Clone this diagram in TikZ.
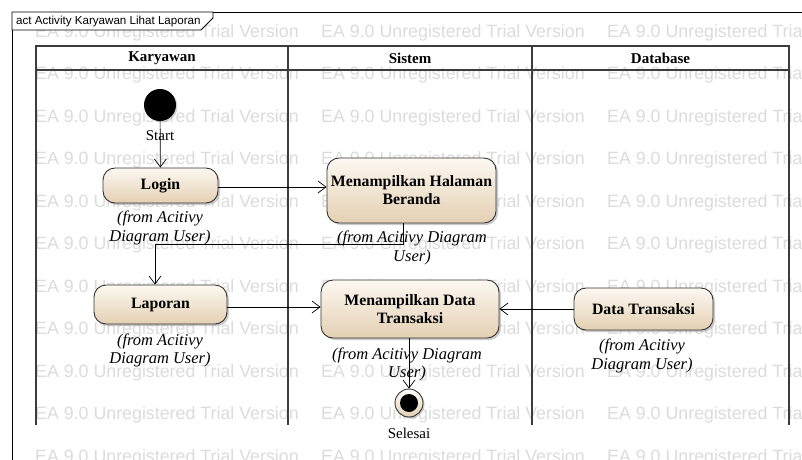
\documentclass[tikz,border=0pt]{standalone}
\usepackage{fontspec}
\setmainfont{Liberation Serif}
\setsansfont{Liberation Sans}
\usetikzlibrary{arrows.meta,shadows}
\definecolor{wmark}{HTML}{DCDCDC}
\definecolor{actTop}{HTML}{FCF8F1}
\definecolor{actBottom}{HTML}{E4D0B3}
\definecolor{laneLine}{HTML}{3C3C3C}
\begin{document}
\begin{tikzpicture}[x=1pt,y=-1pt,
  action/.style={draw=black!80, line width=0.9pt, rounded corners=12pt,
    top color=actTop, bottom color=actBottom,
    drop shadow={shadow xshift=2pt,shadow yshift=-2pt,fill=black!40,opacity=0.5},
    font=\fontsize{15.8}{18}\selectfont\bfseries, align=center, inner sep=0pt},
  origin/.style={font=\fontsize{16.5}{18.5}\selectfont\itshape, align=center, inner sep=0pt},
  flow/.style={draw=black, line width=0.7pt, -{Straight Barb[length=8pt,width=12pt]}},
  lanehead/.style={font=\fontsize{15}{17}\selectfont\bfseries, inner sep=0pt},
  caption/.style={font=\fontsize{15}{17}\selectfont, inner sep=0pt},
  wm/.style={font=\sffamily\fontsize{17.8}{20}\selectfont, text=wmark, inner sep=0pt, anchor=west},
  lane/.style={draw=laneLine, line width=1.3pt}
]
\useasboundingbox (0,0) rectangle (802,459);
\clip (0,0) rectangle (802,459);
\fill[white] (0,0) rectangle (802,459);

% tool watermark rows
\foreach \r in {0,...,10}
  \foreach \c in {35,321,607}
    \node[wm] (wm-\r-\c) at (\c, 32.5+42.5*\r) {EA 9.0 Unregistered Trial Version};

% diagram frame and its name tab
\draw[black, line width=0.8pt] (12,470) -- (12,12) -- (810,12);
\filldraw[fill=white, draw=black, line width=0.8pt]
  (12,12) -- (12,30) -- (201,30) -- (213,18) -- (213,12) -- cycle;
\node[font=\sffamily\fontsize{11.6}{13}\selectfont, anchor=west, inner sep=0pt] (frametitle)
  at (16,21.5) {act Activity Karyawan Lihat Laporan};

% swimlanes
\draw[lane] (36,425) -- (36,46) -- (789,46) -- (789,425);
\draw[lane] (36,70) -- (789,70);
\draw[lane] (288,46) -- (288,425);
\draw[lane] (532,46) -- (532,425);
\node[lanehead] (h1) at (162,58) {Karyawan};
\node[lanehead] (h2) at (410,58) {Sistem};
\node[lanehead] (h3) at (660.5,58) {Database};

% start and end
\node[circle, fill=black, minimum size=32pt, inner sep=0pt,
  drop shadow={shadow xshift=1.5pt,shadow yshift=-1.5pt,fill=black!40,opacity=0.4}] (start) at (160,105) {};
\node[caption] (startlbl) at (160,136) {Start};
\node[circle, draw=black!80, line width=0.9pt, minimum size=28pt, inner sep=0pt,
  top color=white, bottom color=actBottom,
  drop shadow={shadow xshift=1.5pt,shadow yshift=-1.5pt,fill=black!40,opacity=0.5}] (finish) at (409,403) {};
\node[circle, fill=black, minimum size=18pt, inner sep=0pt] (finishdot) at (finish) {};
\node[caption] (finishlbl) at (409,433) {Selesai};

% actions
\node[action, minimum width=115pt, minimum height=35pt] (login) at (160.5,185.5) {Login};
\node[action, minimum width=169pt, minimum height=65pt] (beranda) at (411.5,190.5) {Menampilkan Halaman\\Beranda};
\node[action, minimum width=133pt, minimum height=39pt] (laporan) at (160.5,304.5) {Laporan};
\node[action, minimum width=178pt, minimum height=58pt] (tampil) at (410,309) {Menampilkan Data\\Transaksi};
\node[action, minimum width=139pt, minimum height=42pt] (dbdata) at (643.5,309) {Data Transaksi};

% owner notes
\node[origin] (o1) at (160,228) {(from Acitivy\\Diagram User)};
\node[origin] (o2) at (412,248) {(from Acitivy Diagram\\User)};
\node[origin] (o3) at (160,350.5) {(from Acitivy\\Diagram User)};
\node[origin] (o4) at (407,364.5) {(from Acitivy Diagram\\User)};
\node[origin] (o5) at (642,356) {(from Acitivy\\Diagram User)};

% control flows
\coordinate (elbow) at (155,244);
\draw[flow] (start) -- (login);
\draw[flow] ([yshift=-1.5pt]login.east) -- ([yshift=-1.5pt]login.east -| beranda.west);
\draw[flow] ([xshift=-8.5pt]beranda.south) |- (elbow) -- (elbow |- laporan.north);
\draw[flow] ([yshift=-2.5pt]laporan.east) -- ([yshift=-2.5pt]laporan.east -| tampil.west);
\draw[flow] (dbdata.west) -- (dbdata.west -| tampil.east);
\draw[flow] ([xshift=-1pt]tampil.south) -- (finish.north);
\end{tikzpicture}
\end{document}
